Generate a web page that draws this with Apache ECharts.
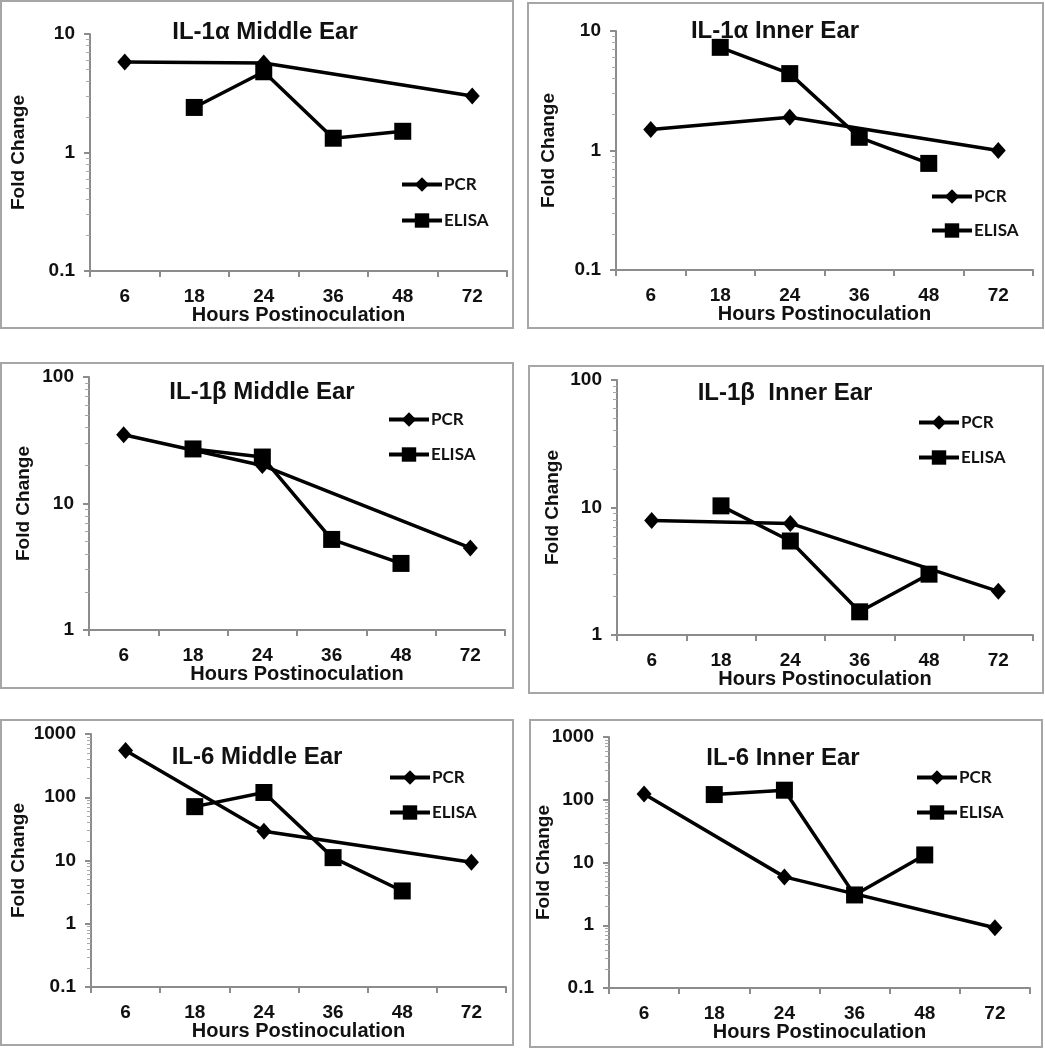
<!DOCTYPE html>
<html><head><meta charset="utf-8">
<script src="https://cdn.jsdelivr.net/npm/echarts@6/dist/echarts.min.js"></script>
<style>html,body{margin:0;padding:0;background:#fff}#c{width:1045px;height:1050px}</style>
</head><body><div id="c"></div>
<script>
// ---- data ----
const hours = ['6', '18', '24', '36', '48', '72'];
const titles = ['IL-1α Middle Ear', 'IL-1α Inner Ear', 'IL-1β Middle Ear', 'IL-1β  Inner Ear', 'IL-6 Middle Ear', 'IL-6 Inner Ear'];
const seriesNames = ['PCR', 'ELISA'];
const pcrIL1aMiddle   = [5.8, null, 5.7, null, null, 3.0];
const elisaIL1aMiddle = [null, 2.4, 4.8, 1.32, 1.51, null];
const pcrIL1aInner    = [1.5, null, 1.9, null, null, 1.0];
const elisaIL1aInner  = [null, 7.3, 4.4, 1.29, 0.78, null];
const pcrIL1bMiddle   = [35, null, 20, null, null, 4.45];
const elisaIL1bMiddle = [null, 27, 23.3, 5.2, 3.36, null];
const pcrIL1bInner    = [7.9, null, 7.5, null, null, 2.2];
const elisaIL1bInner  = [null, 10.3, 5.46, 1.52, 3.0, null];
const pcrIL6Middle    = [550, null, 29, null, null, 9.4];
const elisaIL6Middle  = [null, 71, 119, 11.1, 3.3, null];
const pcrIL6Inner     = [123, null, 5.9, null, null, 0.91];
const elisaIL6Inner   = [null, 121, 142, 3.04, 13.2, null];
const yMinValues = [0.1, 0.1, 1, 1, 0.1, 0.1];
const yMaxValues = [10, 10, 100, 100, 1000, 1000];
const pcrData = [pcrIL1aMiddle, pcrIL1aInner, pcrIL1bMiddle, pcrIL1bInner, pcrIL6Middle, pcrIL6Inner];
const elisaData = [elisaIL1aMiddle, elisaIL1aInner, elisaIL1bMiddle, elisaIL1bInner, elisaIL6Middle, elisaIL6Inner];

// ---- layout ----
const grids = [
  {left: 90, top: 34, width: 417, height: 237},
  {left: 616, top: 31, width: 417, height: 239},
  {left: 89, top: 377, width: 416, height: 253},
  {left: 617, top: 380, width: 416, height: 255},
  {left: 91, top: 734, width: 415, height: 253},
  {left: 609, top: 737, width: 421, height: 251}
];
const boxes = [
  [1, 1, 512, 327], [528, 3, 515, 325],
  [1, 363, 512, 325], [529, 366, 514, 327],
  [1, 720, 512, 325], [530, 720, 512, 327]
];
const titlePos = [[265, 32], [775, 31], [262, 392], [785, 393], [257, 757], [783, 758]];
const legendPos = [[400, 176, 19], [930, 188, 17], [387, 411, 18], [917, 414, 18], [388, 769, 18], [915, 769, 18]];
const yNameGaps = [62, 58, 56, 55, 63, 56];

const FONT = '"Liberation Sans", Arial, sans-serif';
const axisGrey = '#8c8c8c';

// minor log tick positions (2..9 within each decade of an axis range)
function minorTicks(lo, hi) {
  const out = [];
  for (let d = lo; d < hi * 0.999; d *= 10) {
    for (let k = 2; k <= 9; k++) out.push(+(d * k).toPrecision(6));
  }
  return out;
}
const fmt = v => String(parseFloat(Number(v).toPrecision(4)));

const option = {
  backgroundColor: '#fff',
  animation: false,
  title: [], legend: [], grid: [], xAxis: [], yAxis: [], series: [],
  graphic: boxes.map(b => ({
    type: 'rect', shape: {x: b[0], y: b[1], width: b[2], height: b[3]},
    style: {fill: 'none', stroke: '#a6a6a6', lineWidth: 2}, silent: true, z: -1
  }))
};

for (let i = 0; i < 6; i++) {
  const g = grids[i];
  option.grid.push({left: g.left, top: g.top, width: g.width, height: g.height, containLabel: false});
  option.title.push({
    text: titles[i], left: titlePos[i][0], top: titlePos[i][1], padding: 0,
    textAlign: 'center', textVerticalAlign: 'middle',
    textStyle: {fontFamily: FONT, fontWeight: 'bold', fontSize: 24, color: '#111'}
  });
  option.legend.push({
    data: seriesNames, orient: 'vertical', left: legendPos[i][0], top: legendPos[i][1],
    itemWidth: 40, itemHeight: 18, itemGap: legendPos[i][2], padding: 0,
    selectedMode: false,
    lineStyle: {width: 4},
    textStyle: {fontFamily: 'Lato, "Open Sans", sans-serif', fontWeight: 'bold', fontSize: 17, color: '#111', padding: [0, 0, 0, -3]}
  });
  option.xAxis.push({
    type: 'category', gridIndex: i, data: hours, boundaryGap: true,
    name: 'Hours Postinoculation', nameLocation: 'middle', nameGap: 34, nameMoveOverlap: false,
    nameTextStyle: {fontFamily: FONT, fontWeight: 'bold', fontSize: 20, color: '#111'},
    axisLine: {lineStyle: {color: axisGrey, width: 2}},
    axisTick: {show: true, length: 6, lineStyle: {color: axisGrey, width: 2}},
    axisLabel: {fontFamily: FONT, fontWeight: 'bold', fontSize: 19, color: '#111', margin: 16},
    splitLine: {show: false}
  });
}
for (let i = 0; i < 6; i++) {
  option.yAxis.push({
    type: 'log', logBase: 10, gridIndex: i, min: yMinValues[i], max: yMaxValues[i],
    name: 'Fold Change', nameLocation: 'middle', nameGap: yNameGaps[i], nameRotate: 90, nameMoveOverlap: false,
    nameTextStyle: {fontFamily: FONT, fontWeight: 'bold', fontSize: 19, color: '#111'},
    axisLine: {show: true, lineStyle: {color: axisGrey, width: 2}},
    axisTick: {show: true, length: 6, lineStyle: {color: axisGrey, width: 2}},
    axisLabel: {fontFamily: FONT, fontWeight: 'bold', fontSize: 19, color: '#111', margin: 15, formatter: fmt},
    splitLine: {show: false}
  });
}
for (let i = 0; i < 6; i++) {
  option.yAxis.push({
    type: 'log', logBase: 10, gridIndex: i, min: yMinValues[i], max: yMaxValues[i], position: 'left',
    axisLine: {show: false},
    axisTick: {show: true, length: 4, lineStyle: {color: '#a8a8a8', width: 1}, customValues: minorTicks(yMinValues[i], yMaxValues[i])},
    axisLabel: {show: false},
    splitLine: {show: false}
  });
}
for (let i = 0; i < 6; i++) {
  option.series.push({
    name: seriesNames[0], type: 'line', xAxisIndex: i, yAxisIndex: i, data: pcrData[i],
    connectNulls: true, symbol: 'diamond', symbolSize: [15, 17],
    lineStyle: {color: '#000', width: 3.5}, itemStyle: {color: '#000'}
  });
  option.series.push({
    name: seriesNames[1], type: 'line', xAxisIndex: i, yAxisIndex: i, data: elisaData[i],
    connectNulls: true, symbol: 'rect', symbolSize: 17,
    lineStyle: {color: '#000', width: 3.5}, itemStyle: {color: '#000'}
  });
}

const chart = echarts.init(document.getElementById('c'), null, {renderer: 'canvas'});
chart.setOption(option);
</script>
</body></html>
